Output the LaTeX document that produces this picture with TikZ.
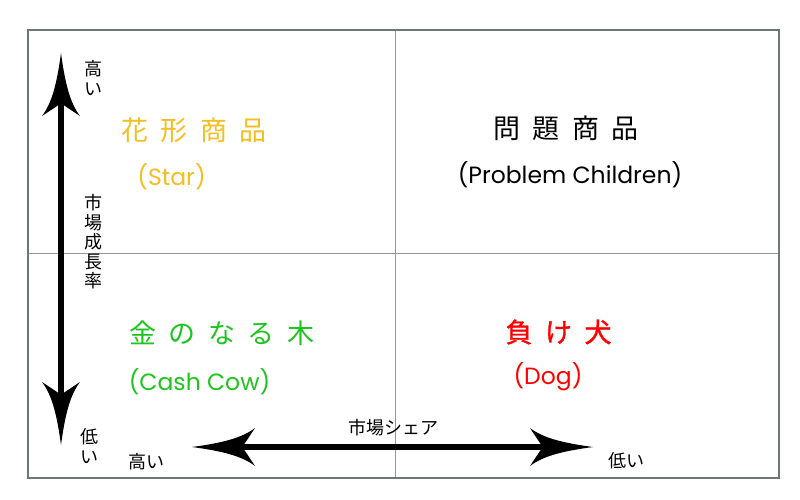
\documentclass[tikz,border=0pt]{standalone}
\usepackage{fontspec}
\newfontfamily\jp{Noto Sans CJK JP}
\newfontfamily\jpbold[FakeBold=1.2]{Noto Sans CJK JP}
\newfontfamily\lat{Poppins}
\definecolor{staryel}{RGB}{242,190,34}
\definecolor{cowgrn}{RGB}{30,196,30}
\definecolor{dogred}{RGB}{255,0,0}
\definecolor{frame}{RGB}{110,118,118}
\definecolor{divider}{RGB}{150,150,150}
\newcommand\gap{\kern 12.5pt}
\tikzset{
  title/.style={inner sep=0pt, font=\jp\fontsize{27}{29}\selectfont},
  sub/.style={inner sep=0pt, font=\lat\fontsize{23.5}{25}\selectfont},
  lbl/.style={inner sep=0pt, font=\jp\fontsize{18}{19.5}\selectfont, align=center},
  axis/.style={line width=6.5pt, shorten <=46pt, shorten >=46pt},
  axhead/.pic={\fill (0,0) .. controls (30,4) and (50,9) .. (63,19)
     .. controls (57,10) and (54,5) .. (50,0)
     .. controls (54,-5) and (57,-10) .. (63,-19)
     .. controls (50,-9) and (30,-4) .. (0,0) -- cycle;}
}
\begin{document}
\begin{tikzpicture}[x=1pt,y=-1pt]
\useasboundingbox (0,0) rectangle (800,500);
% grid
\draw[divider, line width=1pt] (395,30) -- (395,478);
\draw[divider, line width=1pt] (28,253) -- (779,253);
\draw[frame, line width=1.2pt] (28,30) rectangle (779,478);
% axes
\coordinate (vtop) at (61,53);
\coordinate (vbot) at (61,445);
\coordinate (hleft) at (192,447);
\coordinate (hright) at (593,447);
\draw[axis] (vtop) -- (vbot);
\draw[axis] (hleft) -- (hright);
\pic[rotate=-90] at (vtop) {axhead};
\pic[rotate=90] at (vbot) {axhead};
\pic at (hleft) {axhead};
\pic[rotate=180] at (hright) {axhead};
% axis labels
\node[lbl] (vhigh) at (93,78) {高\\い};
\node[lbl] (vname) at (93,242) {市\\場\\成\\長\\率};
\node[lbl] (vlow) at (89,446) {低\\い};
\node[lbl] (hhigh) at (146,462) {高い};
\node[lbl] (hname) at (393,428) {市場シェア};
\node[lbl] (hlow) at (626,461) {低い};
% quadrants
\node[title, text=staryel] (star) at (194,130) {花\gap 形\gap 商\gap 品};
\node[sub, text=staryel] (starsub) at (171.5,177) {(Star)};
\node[title] (prob) at (566,128) {問\gap 題\gap 商\gap 品};
\node[sub] (probsub) at (570,175) {(Problem Children)};
\node[title, text=cowgrn] (cow) at (222,333) {金\gap の\gap な\gap る\gap 木};
\node[sub, text=cowgrn] (cowsub) at (199.5,382) {(Cash Cow)};
\node[title, text=dogred, font=\jpbold\fontsize{27}{29}\selectfont] (dog) at (558.5,332) {負\gap け\gap 犬};
\node[sub, text=dogred] (dogsub) at (548,377) {(Dog)};
\end{tikzpicture}
\end{document}
